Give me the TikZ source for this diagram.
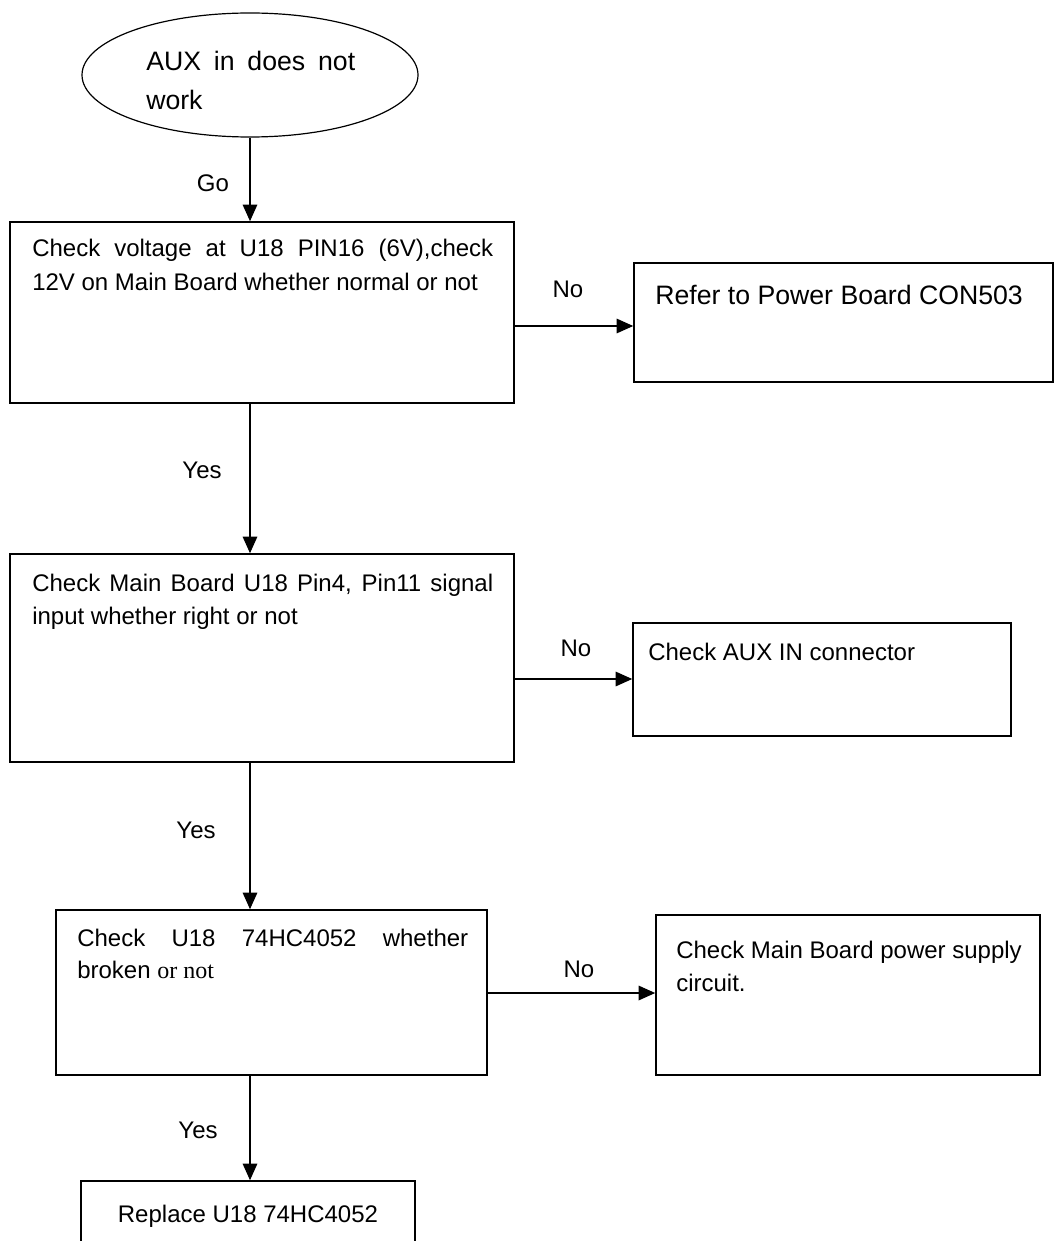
\documentclass[tikz,border=0pt]{standalone}
\usepackage{fontspec}
\setmainfont{Liberation Sans}
\newfontfamily\serifpart{Liberation Serif}
\usetikzlibrary{shapes.geometric,arrows.meta,fit}
\begin{document}
\begin{tikzpicture}[x=0.75pt,y=-0.75pt,
  box/.style={draw,line width=1.2pt,inner sep=0pt,rectangle},
  arr/.style={line width=0.9pt,-{Triangle[length=12.5pt,width=11pt]}},
  txt/.style={anchor=base west,inner sep=0pt,font=\fontsize{18}{22}\selectfont},
  lbl/.style={anchor=base,inner sep=0pt,font=\fontsize{18}{22}\selectfont}]
\useasboundingbox (0,0) rectangle (1055,1241);
\clip (0,0) rectangle (1055,1241);
% shapes
\node[draw,ellipse,line width=0.9pt,inner sep=0pt,minimum width=252pt,minimum height=93pt] (start) at (250,75) {};
\node[box,fit={(10,222) (514,403)}] (b1) {};
\node[box,fit={(634,263) (1053,382)}] (r1) {};
\node[box,fit={(10,554) (514,762)}] (b2) {};
\node[box,fit={(633,623) (1011,736)}] (r2) {};
\node[box,fit={(56,910) (487,1075)}] (b3) {};
\node[box,fit={(656,915) (1040,1075)}] (r3) {};
\node[box,fit={(81,1181) (415,1270)}] (b4) {};
% texts
\node[txt,font=\fontsize{20}{24}\selectfont] (e1) at (146,71) {\makebox[156.75pt][s]{AUX in does not}};
\node[txt,font=\fontsize{20}{24}\selectfont] (e2) at (146,110) {work};
\node[txt] (t1a) at (32,257) {\makebox[345.75pt][s]{Check voltage at U18 PIN16 (6V),check}};
\node[txt] (t1b) at (32,290) {12V on Main Board whether normal or not};
\node[txt,font=\fontsize{20}{24}\selectfont] (tr1) at (655,304) {Refer to Power Board CON503};
\node[txt] (t2a) at (32,591) {\makebox[345.75pt][s]{Check Main Board U18 Pin4, Pin11 signal}};
\node[txt] (t2b) at (32,624) {input whether right or not};
\node[txt] (tr2) at (648,660) {Check AUX IN connector};
\node[txt] (t3a) at (77,946) {\makebox[293.25pt][s]{Check U18 74HC4052 whether}};
\node[txt] (t3b) at (77,978) {broken {\serifpart or not}};
\node[txt] (tr3a) at (676,958) {Check Main Board power supply};
\node[txt] (tr3b) at (676,991) {circuit.};
\node[lbl] (t4) at (248,1222) {Replace U18 74HC4052};
% labels
\node[lbl] (go) at (213,192) {Go};
\node[lbl] (no1) at (568,297) {No};
\node[lbl] (yes1) at (202,478) {Yes};
\node[lbl] (no2) at (576,656) {No};
\node[lbl] (yes2) at (196,838) {Yes};
\node[lbl] (no3) at (579,977) {No};
\node[lbl] (yes3) at (198,1138) {Yes};
% connectors
\coordinate (y1) at (0,326);
\coordinate (y2) at (0,679);
\coordinate (y3) at (0,993);
\draw[arr] (start.south) -- (start.south |- b1.north);
\draw[arr] (b1.south -| start.south) -- (b2.north -| start.south);
\draw[arr] (b2.south -| start.south) -- (b3.north -| start.south);
\draw[arr] (b3.south -| start.south) -- (b4.north -| start.south);
\draw[arr] (b1.east |- y1) -- (r1.west |- y1);
\draw[arr] (b2.east |- y2) -- (r2.west |- y2);
\draw[arr] (b3.east |- y3) -- (r3.west |- y3);
\end{tikzpicture}
\end{document}
